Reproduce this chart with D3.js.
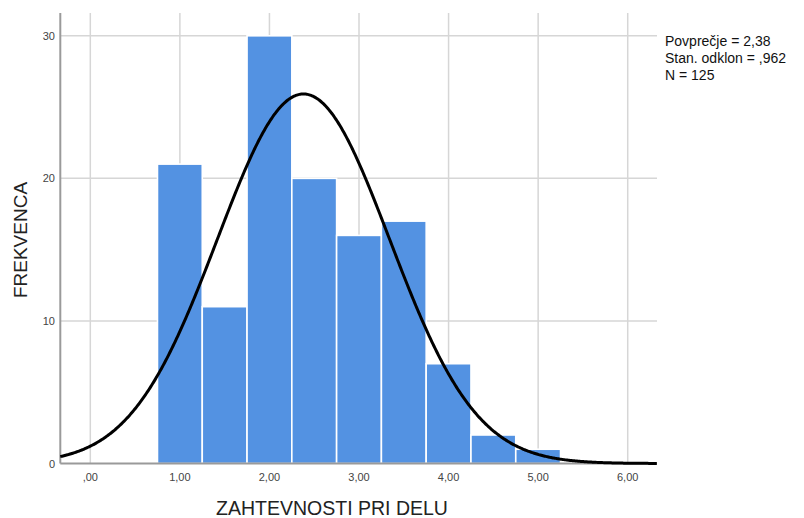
<!DOCTYPE html>
<html>
<head>
<meta charset="utf-8">
<script src="https://cdn.jsdelivr.net/npm/d3@7"></script>
<style>
  html, body { margin: 0; padding: 0; background: #fff; }
  svg { display: block; }
</style>
</head>
<body>
<svg id="chart" width="804" height="518"></svg>
<script>
// ---- data ----
const binStarts = [0.75, 1.25, 1.75, 2.25, 2.75, 3.25, 3.75, 4.25, 4.75];
const binWidth = 0.5;
const counts = [21, 11, 30, 20, 16, 17, 7, 2, 1];
const xTicks = [0, 1, 2, 3, 4, 5, 6];
const xTickLabels = [",00", "1,00", "2,00", "3,00", "4,00", "5,00", "6,00"];
const yTicks = [0, 10, 20, 30];
const stats = { mean: 2.38, sd: 0.962, n: 125 };
const statLines = ["Povprečje = 2,38", "Stan. odklon = ,962", "N = 125"];
const xTitle = "ZAHTEVNOSTI PRI DELU";
const yTitle = "FREKVENCA";

// ---- layout ----
const svg = d3.select("#chart");
const pLeft = 60.3, pRight = 657, pTop = 13, pBottom = 463.5;

const x = d3.scaleLinear().domain([-0.335, 6.327]).range([pLeft, pRight]);
const y = d3.scaleLinear().domain([0, 30]).range([pBottom, 35.8]);

const font = "Arial, 'Liberation Sans', sans-serif";

// grid
const g = svg.append("g");
g.selectAll("line.vg").data(xTicks).enter().append("line")
  .attr("x1", d => x(d)).attr("x2", d => x(d))
  .attr("y1", pTop).attr("y2", pBottom)
  .attr("stroke", "#d6d6d6").attr("stroke-width", 1.5);
g.selectAll("line.hg").data(yTicks.filter(d => d > 0)).enter().append("line")
  .attr("x1", pLeft).attr("x2", pRight)
  .attr("y1", d => y(d)).attr("y2", d => y(d))
  .attr("stroke", "#d6d6d6").attr("stroke-width", 1.5);

// bars
svg.append("g").selectAll("rect").data(counts).enter().append("rect")
  .attr("x", (d, i) => x(binStarts[i]))
  .attr("width", (d, i) => x(binStarts[i] + binWidth) - x(binStarts[i]))
  .attr("y", d => y(d))
  .attr("height", d => y(0) - y(d))
  .attr("fill", "#5392e2")
  .attr("stroke", "#ffffff").attr("stroke-width", 1.6);

// axes lines
svg.append("line").attr("x1", pLeft).attr("x2", pLeft).attr("y1", pTop).attr("y2", pBottom)
  .attr("stroke", "#9a9a9a").attr("stroke-width", 2);
svg.append("line").attr("x1", pLeft).attr("x2", pRight).attr("y1", pBottom).attr("y2", pBottom)
  .attr("stroke", "#9a9a9a").attr("stroke-width", 2);

// normal curve
const xs = d3.range(x.domain()[0], x.domain()[1] + 0.0001, 0.01);
const pdf = v => Math.exp(-0.5 * Math.pow((v - stats.mean) / stats.sd, 2)) / (stats.sd * Math.sqrt(2 * Math.PI));
const line = d3.line().x(d => x(d)).y(d => y(stats.n * binWidth * pdf(d)));
svg.append("path").datum(xs).attr("d", line)
  .attr("fill", "none").attr("stroke", "#000").attr("stroke-width", 3);

// tick labels
svg.append("g").selectAll("text").data(xTicks).enter().append("text")
  .attr("x", d => x(d)).attr("y", 481)
  .attr("text-anchor", "middle")
  .attr("font-family", font).attr("font-size", 11).attr("fill", "#444")
  .text((d, i) => xTickLabels[i]);
svg.append("g").selectAll("text").data(yTicks).enter().append("text")
  .attr("x", 55).attr("y", d => y(d) + 4)
  .attr("text-anchor", "end")
  .attr("font-family", font).attr("font-size", 11).attr("fill", "#444")
  .text(d => d);

// axis titles
svg.append("text").attr("x", 332).attr("y", 515)
  .attr("text-anchor", "middle")
  .attr("font-family", font).attr("font-size", 19.5).attr("fill", "#222")
  .text(xTitle);
svg.append("text").attr("transform", "translate(27,240) rotate(-90)")
  .attr("text-anchor", "middle")
  .attr("font-family", font).attr("font-size", 19).attr("fill", "#222")
  .text(yTitle);

// stats
svg.append("g").selectAll("text").data(statLines).enter().append("text")
  .attr("x", 665).attr("y", (d, i) => 46 + i * 17)
  .attr("font-family", font).attr("font-size", 14).attr("fill", "#111")
  .text(d => d);
</script>
</body>
</html>
